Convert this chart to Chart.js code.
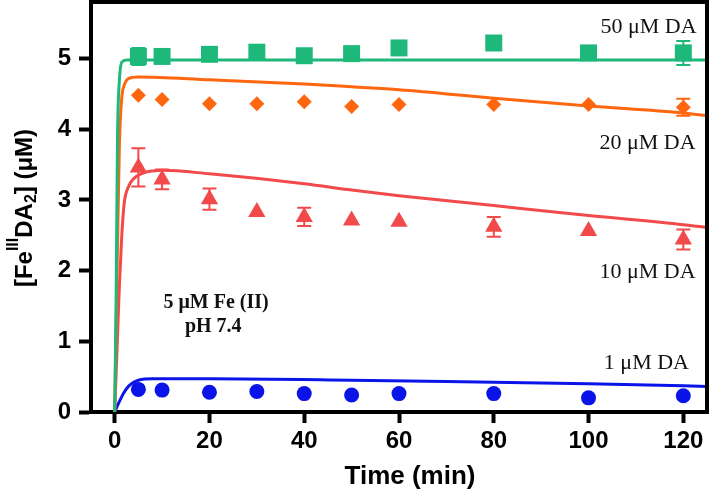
<!DOCTYPE html>
<html>
<head>
<meta charset="utf-8">
<script src="https://cdn.jsdelivr.net/npm/chart.js@4.4.1/dist/chart.umd.min.js"></script>
<style>
html, body { margin: 0; padding: 0; background: #fff; }
#wrap { width: 709px; height: 493px; }
</style>
</head>
<body>
<div id="wrap"><canvas id="feChart"></canvas></div>
<script>
// Sampling times (min) and axis ticks
const times = [5, 10, 20, 30, 40, 50, 60, 80, 100, 120];
const xTicks = [0, 20, 40, 60, 80, 100, 120];
const yTicks = [0, 1, 2, 3, 4, 5];

// Measured [Fe(III)DA2] (uM) for each dopamine level
const da50 = [5.03, 5.03, 5.06, 5.09, 5.04, 5.07, 5.15, 5.22, 5.08, 5.08];
const da20 = [4.48, 4.42, 4.36, 4.36, 4.39, 4.32, 4.35, 4.35, 4.35, 4.31];
const da10 = [3.46, 3.29, 3.01, 2.83, 2.76, 2.71, 2.69, 2.62, 2.56, 2.44];
const da1 = [0.32, 0.31, 0.28, 0.29, 0.26, 0.24, 0.26, 0.26, 0.20, 0.23];

// Error bars (+/-), 0 = none shown
const err50 = [0.12, 0, 0, 0, 0, 0, 0, 0, 0, 0.17];
const err20 = [0, 0, 0, 0, 0, 0, 0, 0, 0, 0.12];
const err10 = [0.27, 0.14, 0.15, 0, 0.13, 0, 0, 0.14, 0, 0.14];
const err1 = [0, 0, 0, 0, 0, 0, 0, 0, 0, 0];

// Model curves
const fit50T = [0, 0.3, 0.6, 1, 1.5, 2.5, 125];
const fit50V = [0, 1.6, 3.9, 4.7, 4.95, 4.98, 4.98];
const fit20T = [0, 0.5, 1, 1.5, 2, 3, 5, 20, 40, 50, 60, 80, 100, 120, 125];
const fit20V = [0, 2.0, 3.8, 4.45, 4.62, 4.72, 4.74, 4.70, 4.64, 4.60, 4.56, 4.44, 4.33, 4.23, 4.19];
const fit10T = [0, 0.5, 1, 1.5, 2, 3, 4, 6, 8, 10, 20, 40, 50, 60, 80, 100, 120, 125];
const fit10V = [0, 0.9, 1.8, 2.5, 2.95, 3.2, 3.3, 3.38, 3.41, 3.42, 3.37, 3.23, 3.14, 3.06, 2.92, 2.78, 2.65, 2.61];
const fit1T = [0, 1, 2, 3, 4, 5, 8, 20, 50, 80, 100, 120, 125];
const fit1V = [0, 0.15, 0.28, 0.37, 0.42, 0.45, 0.47, 0.47, 0.45, 0.42, 0.40, 0.37, 0.36];

const GREEN = '#1db87a';
const ORANGE = '#ff6610';
const RED = '#f24a4a';
const BLUE = '#0a14e8';

function pts(xs, ys) {
    return xs.map((x, i) => ({ x: x, y: ys[i] }));
}

// keep the plot frame where the reference has it
function noPad(s) {
    s.paddingTop = 0;
    s.paddingBottom = 0;
    s.paddingLeft = 0;
    s.paddingRight = 0;
}

// Error bars drawn from the err arrays through the chart scales
const errorBars = {
    id: 'errorBars',
    afterDatasetsDraw(chart) {
        const ctx = chart.ctx;
        const xs = chart.scales.x;
        const ys = chart.scales.y;
        chart.data.datasets.forEach(ds => {
            if (!ds.errors) return;
            ctx.save();
            ctx.strokeStyle = ds.backgroundColor;
            ctx.lineWidth = 2;
            ds.data.forEach((p, i) => {
                const e = ds.errors[i];
                if (!e) return;
                const px = xs.getPixelForValue(p.x);
                const top = ys.getPixelForValue(p.y + e);
                const bot = ys.getPixelForValue(p.y - e);
                ctx.beginPath();
                ctx.moveTo(px, top); ctx.lineTo(px, bot);
                ctx.moveTo(px - 7, top); ctx.lineTo(px + 7, top);
                ctx.moveTo(px - 7, bot); ctx.lineTo(px + 7, bot);
                ctx.stroke();
            });
            ctx.restore();
        });
    }
};

// Frame, labels and axis titles
const decorations = {
    id: 'decorations',
    afterDraw(chart) {
        const ctx = chart.ctx;
        const a = chart.chartArea;
        const xs = chart.scales.x;
        const ys = chart.scales.y;
        ctx.save();
        ctx.strokeStyle = '#000';
        ctx.lineWidth = 4;
        ctx.beginPath();
        ctx.moveTo(a.left - 2, a.top);
        ctx.lineTo(a.right, a.top);
        ctx.lineTo(a.right, a.bottom + 2);
        ctx.stroke();

        ctx.fillStyle = '#111';
        ctx.textBaseline = 'middle';
        ctx.font = '22px "Liberation Serif"';
        ctx.textAlign = 'right';
        ctx.fillText('50 \u03bcM DA', xs.getPixelForValue(122.8), ys.getPixelForValue(5.44));
        ctx.fillText('20 \u03bcM DA', xs.getPixelForValue(122.6), ys.getPixelForValue(3.80));
        ctx.fillText('10 \u03bcM DA', xs.getPixelForValue(122.6), ys.getPixelForValue(1.98));
        ctx.fillText('1 \u03bcM DA', xs.getPixelForValue(121.2), ys.getPixelForValue(0.69));

        ctx.font = 'bold 20px "Liberation Serif"';
        ctx.textAlign = 'center';
        ctx.fillText('5 \u03bcM Fe (II)', xs.getPixelForValue(21.4), ys.getPixelForValue(1.55));
        ctx.fillText('pH 7.4', xs.getPixelForValue(20.8), ys.getPixelForValue(1.20));

        // x title
        ctx.fillStyle = '#000';
        ctx.font = 'bold 26px "Liberation Sans"';
        ctx.fillText('Time (min)', 410, 477);

        // [Fe(III)DA2] (uM), rotated
        const big = 'bold 24px "Liberation Sans"';
        const small = 'bold 16px "Liberation Sans"';
        const parts = [
            { t: '[Fe', f: big, dy: 0 },
            { t: 'III', f: small, dy: -11 },
            { t: 'DA', f: big, dy: 0 },
            { t: '2', f: small, dy: 7 },
            { t: '] (\u03bcM)', f: big, dy: 0 }
        ];
        let total = 0;
        parts.forEach(p => { ctx.font = p.f; p.w = ctx.measureText(p.t).width; total += p.w; });
        ctx.translate(25, 208);
        ctx.rotate(-Math.PI / 2);
        ctx.textAlign = 'left';
        let cx = -total / 2;
        parts.forEach(p => {
            ctx.font = p.f;
            ctx.fillText(p.t, cx, p.dy);
            cx += p.w;
        });
        ctx.restore();
    }
};

const ctx = document.getElementById('feChart').getContext('2d');
const feChart = new Chart(ctx, {
    type: 'scatter',
    data: {
        datasets: [
            { data: pts(fit50T, fit50V), showLine: true, borderColor: GREEN, borderWidth: 3, pointRadius: 0, cubicInterpolationMode: 'monotone', fill: false },
            { data: pts(fit20T, fit20V), showLine: true, borderColor: ORANGE, borderWidth: 3, pointRadius: 0, cubicInterpolationMode: 'monotone', fill: false },
            { data: pts(fit10T, fit10V), showLine: true, borderColor: RED, borderWidth: 3, pointRadius: 0, cubicInterpolationMode: 'monotone', fill: false },
            { data: pts(fit1T, fit1V), showLine: true, borderColor: BLUE, borderWidth: 3, pointRadius: 0, cubicInterpolationMode: 'monotone', fill: false },
            { data: pts(times, da50), errors: err50, pointStyle: 'rect', pointRadius: 12, backgroundColor: GREEN, borderColor: GREEN, borderWidth: 0 },
            { data: pts(times, da20), errors: err20, pointStyle: 'rectRot', pointRadius: 7.5, backgroundColor: ORANGE, borderColor: ORANGE, borderWidth: 0 },
            { data: pts(times, da10), errors: err10, pointStyle: 'triangle', pointRadius: 10, backgroundColor: RED, borderColor: RED, borderWidth: 0 },
            { data: pts(times, da1), errors: err1, pointStyle: 'circle', pointRadius: 7.5, backgroundColor: BLUE, borderColor: BLUE, borderWidth: 0 }
        ]
    },
    options: {
        responsive: true,
        maintainAspectRatio: false,
        animation: false,
        layout: { autoPadding: false, padding: { top: 2, right: 2, left: 0, bottom: 0 } },
        plugins: {
            legend: { display: false },
            tooltip: { enabled: false }
        },
        scales: {
            x: {
                type: 'linear',
                min: -5,
                max: 125,
                afterBuildTicks: s => { s.ticks = xTicks.map(v => ({ value: v })); },
                afterFit: s => { s.height = 81; noPad(s); },
                grid: { drawOnChartArea: false, drawTicks: true, tickLength: 11, tickWidth: 4, color: '#000' },
                border: { display: true, width: 4, color: '#000' },
                ticks: { color: '#000', padding: 4, maxRotation: 0, font: { family: 'Liberation Sans', size: 24, weight: 'bold' } }
            },
            y: {
                type: 'linear',
                min: 0,
                max: 5.8,
                afterBuildTicks: s => { s.ticks = yTicks.map(v => ({ value: v })); },
                afterFit: s => { s.width = 91; noPad(s); },
                grid: { drawOnChartArea: false, drawTicks: true, tickLength: 12, tickWidth: 4, color: '#000' },
                border: { display: true, width: 4, color: '#000' },
                ticks: { color: '#000', padding: 8, font: { family: 'Liberation Sans', size: 24, weight: 'bold' } }
            }
        }
    },
    plugins: [errorBars, decorations]
});
</script>
</body>
</html>
